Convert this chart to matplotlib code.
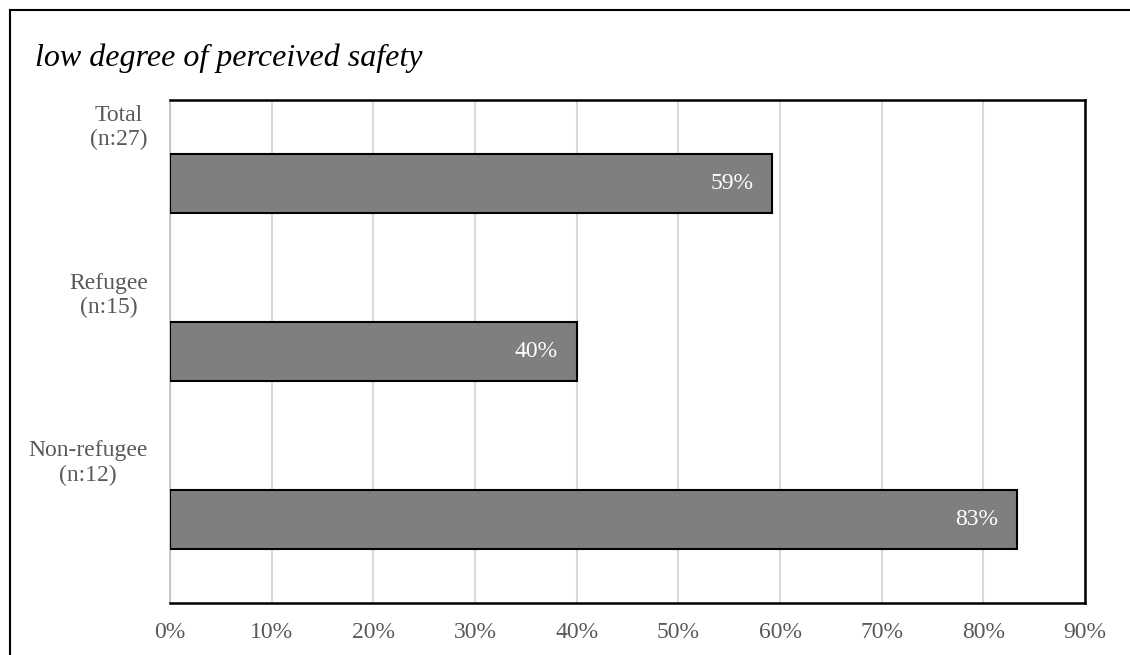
import numpy as np
import matplotlib.pyplot as plt
from matplotlib.lines import Line2D

plt.rcParams['font.family'] = ['Liberation Serif', 'DejaVu Serif']

categories = ['Total\n(n:27)', 'Refugee\n(n:15)', 'Non-refugee\n(n:12)']
values = [59.26, 40.0, 83.33]
value_labels = ['59%', '40%', '83%']
xticks = [0, 10, 20, 30, 40, 50, 60, 70, 80, 90]

W, H = 1130, 655
fig = plt.figure(figsize=(W / 100, H / 100), dpi=100)
ax = fig.add_axes([170 / W, 1 - 603 / H, (1085 - 170) / W, (603 - 100) / H])

y = np.arange(len(categories))
ax.barh(y, values, height=0.35, color='#7f7f7f', edgecolor='black', linewidth=1.5, zorder=3)
for yi, v, lab in zip(y, values, value_labels):
    ax.text(v - 1.9, yi, lab, ha='right', va='center', color='white', fontsize=17, zorder=4)

ax.set_xlim(0, 90)
ax.set_ylim(2.5, -0.5)
ax.set_xticks(xticks)
ax.set_xticklabels([f'{t}%' for t in xticks], fontsize=17, color='#595959')
# category labels sit in the upper half of each band
ax.set_yticks(y - 0.36)
ax.set_yticklabels(categories, fontsize=17, color='#595959')
for lbl in ax.get_yticklabels():
    lbl.set_multialignment('center')
ax.tick_params(axis='both', length=0)
ax.tick_params(axis='y', pad=16)
ax.tick_params(axis='x', pad=14)
ax.grid(axis='x', color='#d9d9d9', linewidth=1.5, zorder=0)
for s in ['top', 'right', 'bottom']:
    ax.spines[s].set_linewidth(1.8)
    ax.spines[s].set_color('black')
ax.spines['left'].set_color('#bfbfbf')
ax.spines['left'].set_linewidth(1.2)

fig.text(35 / W, 1 - 66 / H, 'low degree of perceived safety', style='italic',
         fontsize=23, va='baseline', ha='left')

# outer frame (top and left only)
fig.add_artist(Line2D([10 / W, 1], [1 - 10 / H, 1 - 10 / H], transform=fig.transFigure, color='black', lw=1.5))
fig.add_artist(Line2D([10 / W, 10 / W], [1 - 10 / H, 0], transform=fig.transFigure, color='black', lw=1.5))

fig.savefig('out.png', dpi=100)
